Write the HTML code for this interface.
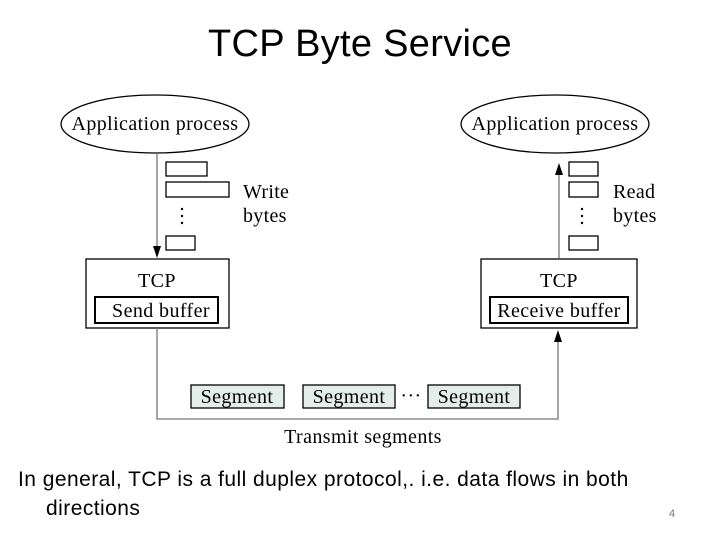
<!DOCTYPE html>
<html><head><meta charset="utf-8"><style>
body{margin:0;width:720px;height:540px;background:#fff;overflow:hidden;position:relative;font-family:"Liberation Sans",sans-serif}
.t{position:absolute;white-space:nowrap}
</style></head><body>
<div class="t" style="left:0;width:720px;text-align:center;top:23px;font-size:38px;letter-spacing:0.3px">TCP Byte Service</div>
<svg width="720" height="540" style="position:absolute;left:0;top:0" font-family="Liberation Serif, serif">
<g fill="none" stroke="#000" stroke-width="1.3">
<ellipse cx="155" cy="124" rx="94" ry="29"/>
<ellipse cx="555" cy="124" rx="94" ry="29"/>
<rect x="86" y="259" width="143" height="69"/>
<rect x="95" y="297" width="123" height="26" stroke-width="2"/>
<rect x="481" y="259" width="156" height="69"/>
<rect x="490" y="297" width="138" height="26" stroke-width="2"/>
<rect x="166" y="162" width="41" height="14"/><rect x="166" y="182" width="63" height="15"/><rect x="166" y="236" width="29" height="14"/>
<rect x="569" y="162" width="29" height="14"/><rect x="569" y="182" width="29" height="15"/><rect x="569" y="236" width="29" height="14"/>
</g>
<g stroke="#777" stroke-width="1.3" fill="none">
<line x1="157" y1="153" x2="157" y2="248"/>
<line x1="559" y1="258" x2="559" y2="172"/>
<polyline points="157,328 157,419 558,419 558,340"/>
</g>
<path d="M555,175 L563,175 L559,163 Z"/>
<path d="M554,342 L562,342 L558,330 Z"/>
<path d="M153,246 L161,246 L157,258 Z"/>
<g fill="#000"><circle cx="182" cy="209" r="1.2"/><circle cx="182" cy="216" r="1.2"/><circle cx="182" cy="223" r="1.2"/>
<circle cx="582" cy="209" r="1.2"/><circle cx="582" cy="216" r="1.2"/><circle cx="582" cy="223" r="1.2"/></g>
<g fill="#e3eeeb" stroke="#000" stroke-width="1.3">
<rect x="191" y="385" width="93" height="23"/><rect x="303" y="385" width="92" height="23"/><rect x="428" y="385" width="92" height="23"/></g>
<g font-size="20" fill="#000" text-anchor="middle" letter-spacing="0.4">
<text x="155" y="130">Application process</text>
<text x="555" y="130">Application process</text>
<text x="157" y="287">TCP</text>
<text x="559" y="287">TCP</text>
<text x="161" y="317">Send buffer</text>
<text x="559" y="317">Receive buffer</text>
<text x="237" y="403">Segment</text><text x="349" y="403">Segment</text><text x="474" y="403">Segment</text>
<text x="411" y="402">···</text>
<text x="363" y="443">Transmit segments</text>
</g>
<g font-size="20" fill="#000" letter-spacing="0.3">
<text x="243" y="198">Write</text><text x="243" y="222">bytes</text>
<text x="613" y="198">Read</text><text x="613" y="222">bytes</text>
</g>
</svg>
<div class="t" style="left:18px;top:468px;font-size:21px;letter-spacing:0.45px">In general, TCP is a full duplex protocol,. i.e. data flows in both</div>
<div class="t" style="left:46px;top:497px;font-size:21px;letter-spacing:0.45px">directions</div>
<div class="t" style="left:669px;top:508px;font-size:11px;color:#777">4</div>
</body></html>
